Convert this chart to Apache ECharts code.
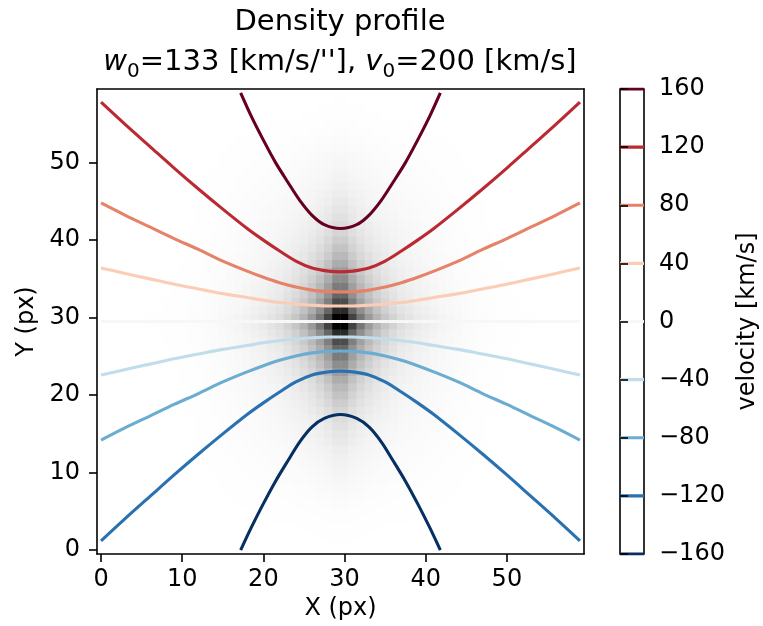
<!DOCTYPE html>
<html><head><meta charset="utf-8">
<script src="https://cdn.jsdelivr.net/npm/echarts@6.0.0/dist/echarts.min.js"></script>
<style>html,body{margin:0;padding:0;background:#fff}#c{width:763px;height:626px}</style>
</head><body><div id="c"></div>
<script>
// ---------- data ----------
// density profile, half-profiles indexed by distance (in pixels) from the centre (29.5, 29.5)
const coreXByD = [1.0,0.7,0.5,0.36,0.26,0.19,0.14,0.1,0.08,0.06,0.048,0.038,0.03,0.024,0.019,0.015,0.012,0.009,0.007,0.005,0.004,0.003,0.002,0.002,0.001,0.001,0,0,0,0];
const coreYByD = [1.0,0.8,0.66,0.56,0.48,0.41,0.35,0.29,0.24,0.2,0.165,0.135,0.11,0.09,0.075,0.062,0.051,0.042,0.034,0.028,0.023,0.018,0.014,0.011,0.008,0.006,0.004,0.003,0.002,0.001];
const haloXByD = [0.2,0.2,0.195,0.19,0.18,0.17,0.155,0.14,0.125,0.11,0.095,0.08,0.065,0.05,0.038,0.028,0.02,0.013,0.008,0.004,0.002,0,0,0,0,0,0,0,0,0];
const haloYByD = [0.2,0.2,0.2,0.198,0.195,0.19,0.185,0.18,0.175,0.168,0.16,0.152,0.144,0.135,0.125,0.115,0.104,0.092,0.08,0.068,0.056,0.045,0.035,0.026,0.018,0.012,0.007,0.004,0.002,0];

// velocity contour levels and colours (RdBu_r)
const levels = [-160,-120,-80,-40,0,40,80,120,160];
const levelColors = ['#053061','#2a71b2','#6bacd1','#c1ddec','#f7f7f7','#fbcdb6','#e58267','#bb2a33','#67001f'];

// contour paths (x in px, y in px)
const xWide   = [0,3,6,9,12,15,18,20,22,24,26,28,29.5,31,33,35,37,39,41,44,47,50,53,56,59];
const yNeg120 = [1.2,4.1,6.9,9.7,12.4,15.0,17.5,19.0,20.4,21.7,22.6,23.0,23.1,23.0,22.6,21.7,20.4,19.0,17.5,15.0,12.4,9.7,6.9,4.1,1.2];
const yNeg80  = [14.2,15.8,17.3,18.8,20.2,21.7,23.0,23.8,24.5,25.05,25.45,25.65,25.7,25.65,25.45,25.05,24.5,23.8,23.0,21.7,20.2,18.8,17.3,15.8,14.2];
const yNeg40  = [22.6,23.3,24.0,24.7,25.3,25.9,26.4,26.75,27.05,27.25,27.4,27.5,27.5,27.5,27.4,27.25,27.05,26.75,26.4,25.9,25.3,24.7,24.0,23.3,22.6];
const yZero   = [29.5,29.5,29.5,29.5,29.5,29.5,29.5,29.5,29.5,29.5,29.5,29.5,29.5,29.5,29.5,29.5,29.5,29.5,29.5,29.5,29.5,29.5,29.5,29.5,29.5];
const yPos40  = [36.4,35.7,35.0,34.3,33.7,33.1,32.6,32.25,31.95,31.75,31.6,31.5,31.5,31.5,31.6,31.75,31.95,32.25,32.6,33.1,33.7,34.3,35.0,35.7,36.4];
const yPos80  = [44.8,43.2,41.7,40.2,38.8,37.3,36.0,35.2,34.5,33.95,33.55,33.35,33.3,33.35,33.55,33.95,34.5,35.2,36.0,37.3,38.8,40.2,41.7,43.2,44.8];
const yPos120 = [57.8,54.9,52.1,49.3,46.6,44.0,41.5,40.0,38.6,37.3,36.4,36.0,35.9,36.0,36.4,37.3,38.6,40.0,41.5,44.0,46.6,49.3,52.1,54.9,57.8];
const xArc    = [17.2,18.5,20,21.5,23,24.5,26,27.5,29.5,31.5,33,34.5,36,37.5,39,40.5,41.8];
const yNeg160 = [0,2.9,6.0,8.9,11.5,14.0,15.9,17.0,17.5,17.0,15.9,14.0,11.5,8.9,6.0,2.9,0];
const yPos160 = [59,56.0,52.9,50.0,47.5,45.1,43.2,42.0,41.5,42.0,43.2,45.1,47.5,50.0,52.9,56.0,59];

// tick labels
const xTicks = [0,10,20,30,40,50];
const yTicks = [0,10,20,30,40,50];
const cbTicks = [-160,-120,-80,-40,0,40,80,120,160];
const nPix = 60;

// ---------- build ----------
const cats = Array.from({length:nPix}, (_, i) => String(i));
const heat = [];
for (let i = 0; i < nPix; i++) {
  const dx = Math.floor(Math.abs(i - (nPix - 1) / 2));
  for (let j = 0; j < nPix; j++) {
    const dy = Math.floor(Math.abs(j - (nPix - 1) / 2));
    heat.push([i, j, Math.min(1, coreXByD[dx] * coreYByD[dy] + haloXByD[dx] * haloYByD[dy])]);
  }
}
const contours = [
  {x: xArc,  y: yNeg160}, {x: xWide, y: yNeg120}, {x: xWide, y: yNeg80}, {x: xWide, y: yNeg40},
  {x: xWide, y: yZero},   {x: xWide, y: yPos40},  {x: xWide, y: yPos80}, {x: xWide, y: yPos120},
  {x: xArc,  y: yPos160}
];

const FONT = 'DejaVu Sans';
const minus = v => String(v).replace('-', '\u2212');
const G = {left: 97, top: 89, width: 487, height: 465};

const series = [{
  type: 'heatmap', xAxisIndex: 0, yAxisIndex: 0, data: heat, progressive: 0,
  itemStyle: {borderWidth: 0}, emphasis: {disabled: true}, silent: true, z: 1
}];
contours.forEach((c, k) => {
  series.push({
    type: 'line', xAxisIndex: 1, yAxisIndex: 1, smooth: 0.3,
    symbol: 'none', silent: true, z: 3,
    data: c.x.map((xv, m) => [xv, c.y[m]]),
    lineStyle: {color: levelColors[k], width: 3.1}
  });
});
levels.forEach((lv, k) => {
  series.push({
    type: 'line', xAxisIndex: 3, yAxisIndex: 3, symbol: 'none', silent: true, z: 3,
    data: [[0, lv], [1, lv]], lineStyle: {color: levelColors[k], width: 3.1}
  });
});

const axLine = {show: true, onZero: false, lineStyle: {color: '#000', width: 1.6}};
const labelStyle = {fontSize: 24, fontFamily: FONT, color: '#000'};

const option = {
  animation: false,
  backgroundColor: '#fff',
  textStyle: {fontFamily: FONT},
  grid: [
    Object.assign({outerBoundsMode: 'none'}, G),
    Object.assign({outerBoundsMode: 'none'}, G),
    {outerBoundsMode: 'none', left: 620, top: 89, width: 24, height: 465, show: true,
     borderColor: '#000', borderWidth: 1.6, backgroundColor: '#fff'}
  ],
  visualMap: [{type: 'continuous', seriesIndex: 0, min: 0, max: 1, show: false,
               inRange: {color: ['#ffffff', '#000000']}}],
  xAxis: [
    {gridIndex: 0, type: 'category', data: cats, show: false},
    {gridIndex: 1, type: 'value', min: -0.5, max: 59.5, position: 'bottom', z: 10,
     axisLine: axLine,
     axisTick: {show: true, inside: false, length: 8, customValues: xTicks, lineStyle: {color: '#000', width: 1.6}},
     axisLabel: Object.assign({show: true, customValues: xTicks, margin: 14, formatter: minus}, labelStyle),
     splitLine: {show: false},
     name: 'X (px)', nameLocation: 'middle', nameGap: 40, nameTextStyle: labelStyle},
    {gridIndex: 1, type: 'value', min: -0.5, max: 59.5, position: 'top', z: 10,
     axisLine: axLine, axisTick: {show: false}, axisLabel: {show: false}, splitLine: {show: false}},
    {gridIndex: 2, type: 'value', min: 0, max: 1, show: false}
  ],
  yAxis: [
    {gridIndex: 0, type: 'category', data: cats, show: false},
    {gridIndex: 1, type: 'value', min: -0.5, max: 59.5, position: 'left', z: 10,
     axisLine: axLine,
     axisTick: {show: true, inside: false, length: 8, customValues: yTicks, lineStyle: {color: '#000', width: 1.6}},
     axisLabel: Object.assign({show: true, customValues: yTicks, margin: 17, formatter: minus}, labelStyle),
     splitLine: {show: false},
     name: 'Y (px)', nameLocation: 'middle', nameGap: 56, nameRotate: 90, nameTextStyle: labelStyle},
    {gridIndex: 1, type: 'value', min: -0.5, max: 59.5, position: 'right', z: 10,
     axisLine: axLine, axisTick: {show: false}, axisLabel: {show: false}, splitLine: {show: false}},
    {gridIndex: 2, type: 'value', min: -160, max: 160, interval: 40, position: 'right', z: 10,
     axisLine: {show: false},
     axisTick: {show: true, inside: false, length: 8, customValues: cbTicks, lineStyle: {color: '#000', width: 1.6}},
     axisLabel: Object.assign({show: true, customValues: cbTicks, margin: 15, formatter: minus}, labelStyle),
     splitLine: {show: false},
     name: 'velocity [km/s]', nameLocation: 'middle', nameGap: 92, nameRotate: 90, nameTextStyle: labelStyle}
  ],
  graphic: [{
    type: 'text', x: 340, y: 2, z: 100,
    style: {
      text: '{a|Density profile}\n{i|w}{s|0}{n|=133 [km/s/\'\'], }{i|v}{s|0}{n|=200 [km/s]}',
      align: 'center', verticalAlign: 'top', fill: '#000', fontFamily: FONT, fontSize: 29,
      rich: {
        a: {fontSize: 29, fontFamily: FONT, lineHeight: 40, fill: '#000'},
        n: {fontSize: 29, fontFamily: FONT, lineHeight: 40, fill: '#000'},
        i: {fontSize: 29, fontFamily: FONT, fontStyle: 'italic', lineHeight: 40, fill: '#000'},
        s: {fontSize: 20, fontFamily: FONT, lineHeight: 22, verticalAlign: 'bottom', fill: '#000'}
      }
    }
  }],
  series: series
};
const chart = echarts.init(document.getElementById('c'), null, {renderer: 'canvas'});
chart.setOption(option);
</script></body></html>
